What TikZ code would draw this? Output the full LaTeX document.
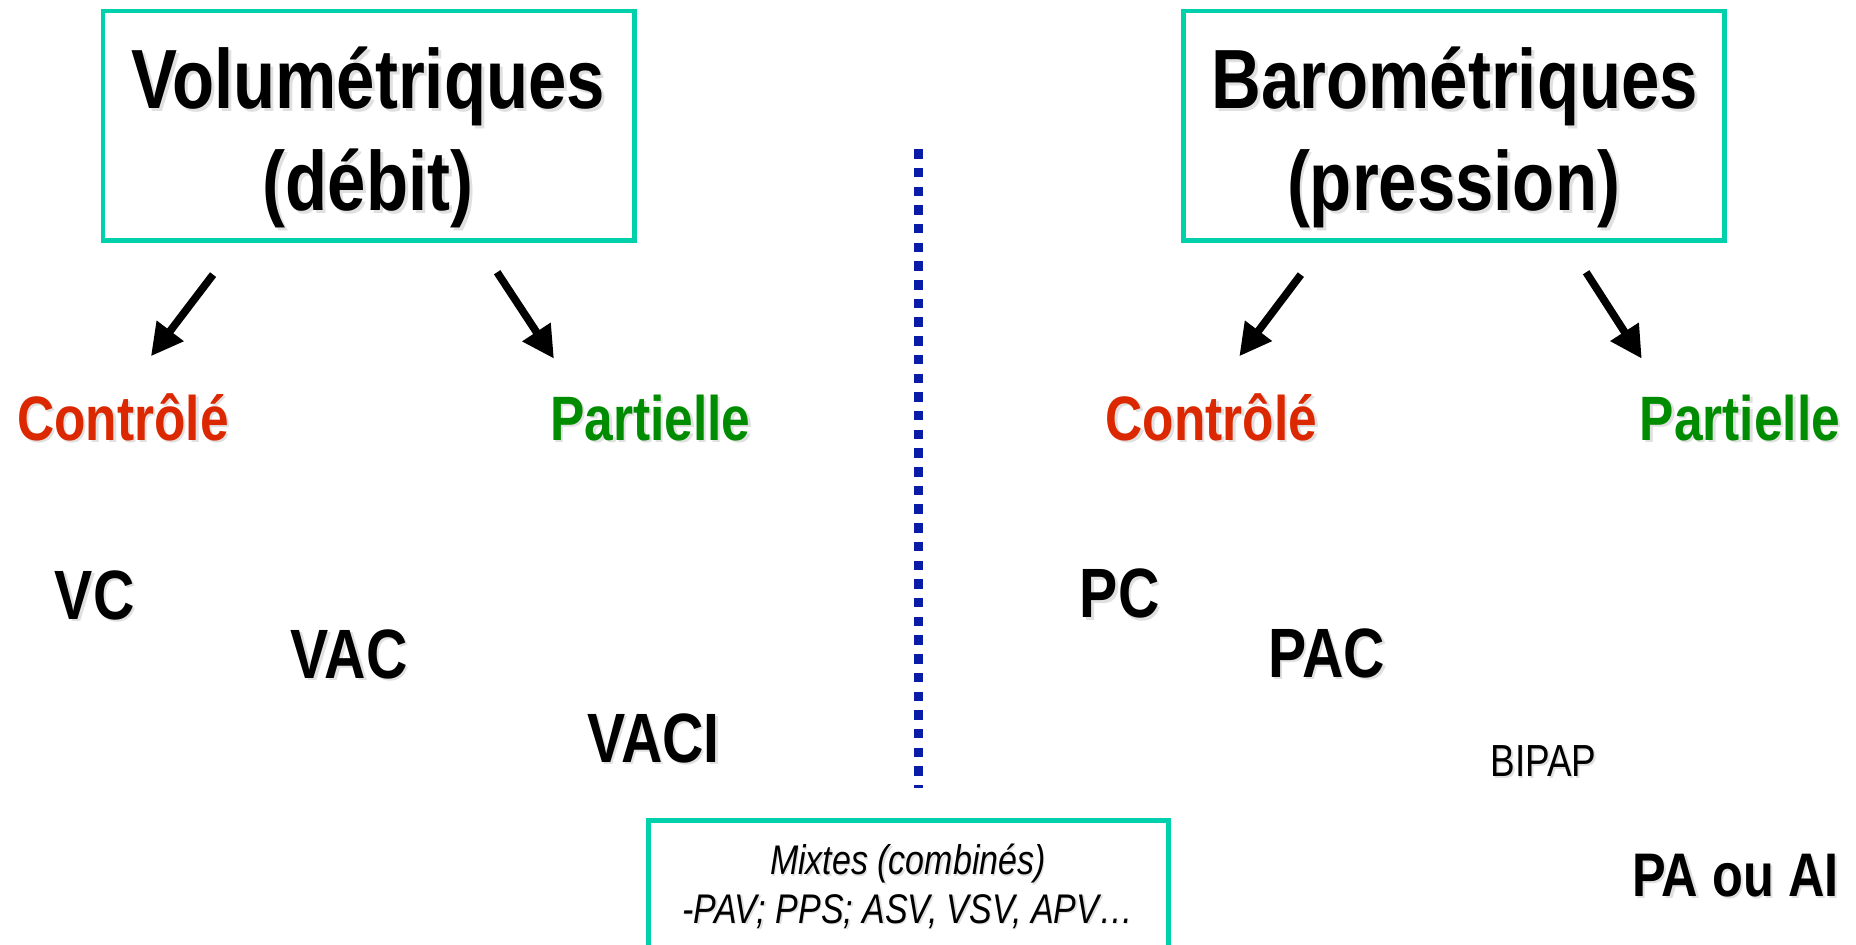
\documentclass[tikz,border=0pt]{standalone}
\usepackage{fontspec}
\setmainfont{Liberation Sans}[FakeStretch=0.82]
\usetikzlibrary{arrows.meta}
\definecolor{tealbox}{RGB}{0,208,172}
\definecolor{dotblue}{RGB}{8,28,168}
\definecolor{redC}{RGB}{220,40,0}
\definecolor{greenP}{RGB}{0,140,0}
\newcommand{\shtext}[2][2pt]{\makebox[0pt][l]{\kern#1\raisebox{-#1}{\color{black!12}#2}}#2}
\begin{document}
\begin{tikzpicture}[x=1pt,y=-1pt,
  tbox/.style={draw=tealbox, line width=4pt, inner sep=0pt, rectangle},
  lbl/.style={anchor=base, inner sep=0pt, outer sep=0pt},
  title/.style={lbl, font=\fontsize{71}{85}\selectfont\bfseries},
  cat/.style={lbl, font=\fontsize{53}{60}\selectfont\bfseries},
  mode/.style={lbl, font=\fontsize{59}{66}\selectfont\bfseries},
  arr/.style={line width=6.5pt, -{Triangle[length=27pt,width=27pt]}},
  dotline/.style={draw=dotblue, line width=8pt, dash pattern=on 8pt off 7.8pt}
]
\clip (0,0) rectangle (1568,798);
\fill[white] (0,0) rectangle (1568,798);

% title boxes
\node[tbox, minimum width=449pt, minimum height=194pt] (volbox) at (311.5,106.3) {};
\node[tbox, minimum width=457pt, minimum height=194pt] (barbox) at (1228.5,106.3) {};
\node[title] (vol1) at (311,92) {\shtext[2.5pt]{Volumétriques}};
\node[title] (vol2) at (311,178) {\shtext[2.5pt]{(débit)}};
\node[title] (bar1) at (1229,92) {\shtext[2.5pt]{Barométriques}};
\node[title] (bar2) at (1228,178) {\shtext[2.5pt]{(pression)}};

% arrows
\coordinate (a1s) at (180,232); \coordinate (a1e) at (127.5,301);
\coordinate (a2s) at (420,230); \coordinate (a2e) at (468,303);
\coordinate (a3s) at (1099,232); \coordinate (a3e) at (1047,301);
\coordinate (a4s) at (1340,230); \coordinate (a4e) at (1387,303);
\draw[arr] (a1s) -- (a1e);
\draw[arr] (a2s) -- (a2e);
\draw[arr] (a3s) -- (a3e);
\draw[arr] (a4s) -- (a4e);

% categories
\node[cat, text=redC] (c1) at (104,372) {\shtext{Contrôlé}};
\node[cat, text=greenP] (p1) at (549.5,372) {\shtext{Partielle}};
\node[cat, text=redC] (c2) at (1023.5,372) {\shtext{Contrôlé}};
\node[cat, text=greenP] (p2) at (1470,372) {\shtext{Partielle}};

% separator
\coordinate (ds) at (776,126); \coordinate (de) at (776,666);
\draw[dotline] (ds) -- (de);

% modes
\node[mode] (vc) at (80,523) {\shtext{VC}};
\node[mode] (vac) at (295,573) {\shtext{VAC}};
\node[mode] (vaci) at (552,644) {\shtext{VACI}};
\node[mode] (pc) at (946,522) {\shtext{PC}};
\node[mode] (pac) at (1121,572) {\shtext{PAC}};
\node[lbl, font=\fontsize{38}{44}\selectfont] (bipap) at (1304,656) {\shtext[1.5pt]{BIPAP}};
\node[lbl, font=\fontsize{52}{60}\selectfont\bfseries] (paai) at (1466,757) {\shtext{PA ou AI}};

% mixed box
\node[tbox, minimum width=439pt, minimum height=160pt] (mixbox) at (767.5,773) {};
\node[lbl, font=\fontsize{35}{40}\selectfont\itshape] (mix1) at (767,739) {\shtext[1.2pt]{Mixtes (combinés)}};
\node[lbl, font=\fontsize{35}{40}\selectfont\itshape] (mix2) at (767,780) {\shtext[1.2pt]{-PAV; PPS; ASV, VSV, APV…}};
\end{tikzpicture}
\end{document}
